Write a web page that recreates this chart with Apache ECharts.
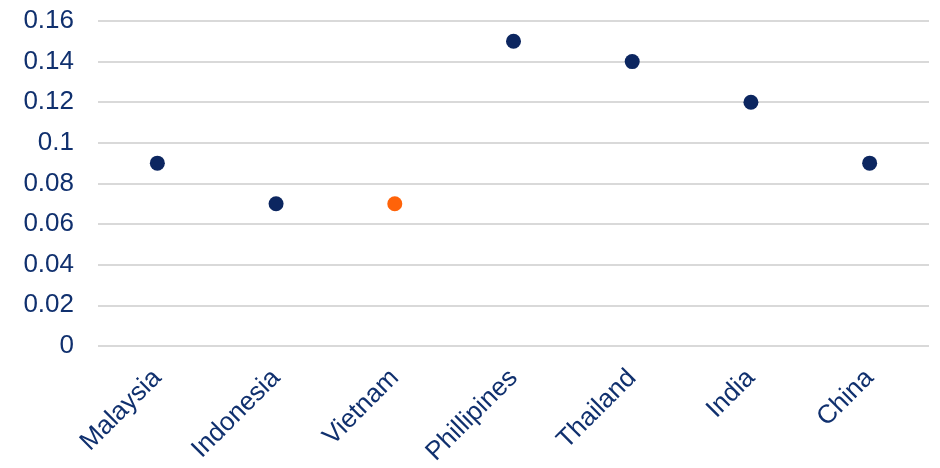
<!DOCTYPE html>
<html>
<head>
<meta charset="utf-8">
<script src="https://cdn.jsdelivr.net/npm/echarts@6/dist/echarts.min.js"></script>
<style>
  html, body { margin: 0; padding: 0; background: #ffffff; }
  #chart { width: 940px; height: 468px; }
</style>
</head>
<body>
<div id="chart"></div>
<script>
// Countries along the x axis and their values
const countries = ['Malaysia', 'Indonesia', 'Vietnam', 'Phillipines', 'Thailand', 'India', 'China'];
const values = [0.09, 0.07, 0.07, 0.15, 0.14, 0.12, 0.09];
const highlighted = 'Vietnam';

const navy = '#0c2660';
const orange = '#ff6309';
const textColor = '#10306e';

const points = countries.map((c, i) => ({
  value: values[i],
  itemStyle: { color: c === highlighted ? orange : navy, opacity: 1 }
}));

const chart = echarts.init(document.getElementById('chart'), null, { renderer: 'canvas' });
chart.setOption({
  animation: false,
  grid: { left: 98, right: 11, top: 21, bottom: 120, containLabel: false },
  xAxis: {
    type: 'category',
    data: countries,
    axisLine: { show: false },
    axisTick: { show: false },
    axisLabel: {
      rotate: 45,
      margin: 28,
      interval: 0,
      color: textColor,
      fontSize: 26,
      fontFamily: 'Liberation Sans, Arial, sans-serif'
    }
  },
  yAxis: {
    type: 'value',
    min: 0,
    max: 0.16,
    interval: 0.02,
    axisLine: { show: false },
    axisTick: { show: false },
    axisLabel: {
      margin: 24,
      color: textColor,
      fontSize: 26,
      fontFamily: 'Liberation Sans, Arial, sans-serif',
      formatter: v => String(parseFloat(v.toFixed(2)))
    },
    splitLine: { lineStyle: { color: '#d9d9d9', width: 2 } }
  },
  series: [{
    type: 'scatter',
    data: points,
    symbol: 'circle',
    symbolSize: 15,
    itemStyle: { opacity: 1 }
  }]
});
</script>
</body>
</html>
